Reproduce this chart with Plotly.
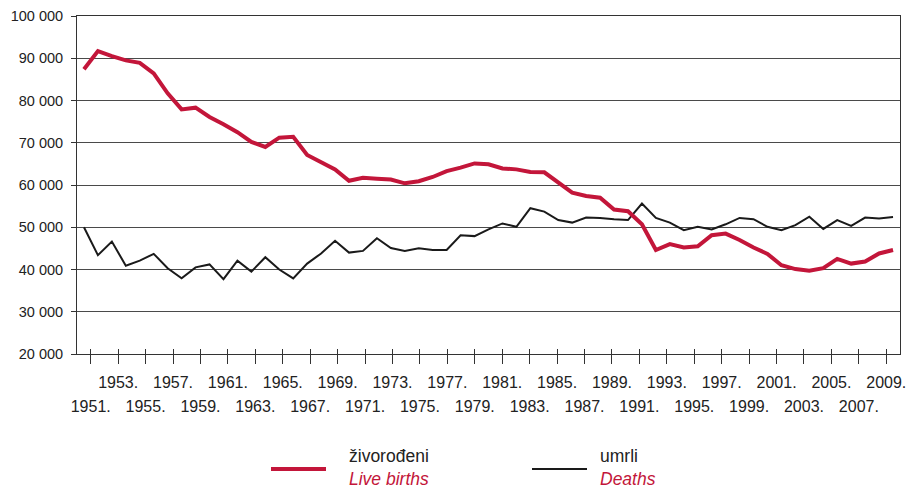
import plotly.graph_objects as go

years = list(range(1951, 2010))

live_births = [87400, 91700, 90500, 89500, 88900, 86400, 81700, 77900, 78300, 76100,
               74400, 72500, 70200, 69000, 71200, 71400, 67100, 65500, 63700, 61000,
               61700, 61500, 61300, 60400, 60900, 61900, 63300, 64100, 65100, 64900,
               63900, 63700, 63100, 63000, 60700, 58200, 57400, 57000, 54200, 53800,
               50700, 44600, 46000, 45200, 45500, 48100, 48500, 47000, 45200, 43700,
               41000, 40100, 39700, 40300, 42500, 41400, 41900, 43800, 44600]

deaths = [50000, 43400, 46600, 40900, 42100, 43700, 40300, 37900, 40500, 41200,
          37700, 42100, 39500, 42900, 40000, 37900, 41400, 43800, 46800, 44000,
          44400, 47400, 45100, 44400, 45000, 44600, 44600, 48100, 47900, 49500,
          50900, 50100, 54500, 53700, 51700, 51100, 52300, 52200, 51900, 51700,
          55600, 52200, 51100, 49300, 50100, 49500, 50700, 52200, 51900, 50100,
          49300, 50500, 52500, 49600, 51700, 50300, 52300, 52100, 52400]

tick_years = ["1951.", "1953.", "1955.", "1957.", "1959.", "1961.", "1963.", "1965.",
              "1967.", "1969.", "1971.", "1973.", "1975.", "1977.", "1979.", "1981.",
              "1983.", "1985.", "1987.", "1989.", "1991.", "1993.", "1995.", "1997.",
              "1999.", "2001.", "2003.", "2005.", "2007.", "2009."]

y_ticks = [20000, 30000, 40000, 50000, 60000, 70000, 80000, 90000, 100000]
y_labels = ["20 000", "30 000", "40 000", "50 000", "60 000", "70 000", "80 000", "90 000", "100 000"]

RED = "#C3163A"
BLACK = "#1a1a1a"
FONT = "Liberation Sans, Arial, sans-serif"

x0, x1 = years[0] - 0.5, years[-1] + 0.5
span = x1 - x0
n_ticks = len(tick_years)
tickvals = [x0 + (2 * k + 1) * span / (2 * n_ticks) for k in range(n_ticks)]
lab = "<span style='font-size:16px'>%s</span>"
ticktext = [("\u00a0<br>" + lab % t) if k % 2 == 0 else lab % t for k, t in enumerate(tick_years)]

fig = go.Figure()
fig.add_trace(go.Scatter(x=years, y=deaths, mode="lines", name="umrli",
                         line=dict(color=BLACK, width=2), showlegend=False))
fig.add_trace(go.Scatter(x=years, y=live_births, mode="lines", name="živorođeni",
                         line=dict(color=RED, width=4), showlegend=False))

W, H = 911, 489
ML, MR, MT, MB = 77, 11, 16, 135
pw, ph = W - ML - MR, H - MT - MB


def px(xp):
    return (xp - ML) / pw


def py(yp):
    return (H - MB - yp) / ph


shapes = [
    dict(type="line", xref="paper", yref="paper", x0=px(271), x1=px(326), y0=py(469), y1=py(469),
         line=dict(color=RED, width=4)),
    dict(type="line", xref="paper", yref="paper", x0=px(532), x1=px(587), y0=py(469), y1=py(469),
         line=dict(color=BLACK, width=2)),
]
annotations = [
    dict(xref="paper", yref="paper", x=px(348), y=py(467.5), xanchor="left", yanchor="middle",
         showarrow=False, align="left", borderpad=0,
         text="živorođeni<br><i><span style='color:%s'>Live births</span></i>" % RED,
         font=dict(family=FONT, size=17.5, color="#222")),
    dict(xref="paper", yref="paper", x=px(599), y=py(467.5), xanchor="left", yanchor="middle",
         showarrow=False, align="left", borderpad=0,
         text="umrli<br><i><span style='color:%s'>Deaths</span></i>" % RED,
         font=dict(family=FONT, size=17.5, color="#222")),
]

fig.update_layout(
    width=W, height=H,
    margin=dict(l=ML, r=MR, t=MT, b=MB, autoexpand=False),
    paper_bgcolor="white", plot_bgcolor="white",
    shapes=shapes, annotations=annotations,
    xaxis=dict(range=[x0, x1], tickmode="array", tickvals=tickvals, ticktext=ticktext,
               automargin=False,
               ticks="outside", ticklen=9, tickcolor="#333", tickwidth=1,
               minor=dict(tickmode="array", tickvals=[v + 1e-4 for v in tickvals],
                          ticks="inside", ticklen=5, tickcolor="#333", tickwidth=1),
               showgrid=False, zeroline=False, showline=True, mirror=True,
               linecolor="#333", linewidth=1,
               tickangle=0, ticklabelstandoff=2,
               tickfont=dict(family=FONT, size=18.5, color="#222")),
    yaxis=dict(range=[20000, 100000], tickmode="array", tickvals=y_ticks, ticktext=y_labels,
               automargin=False,
               ticks="outside", ticklen=5, tickcolor="#333",
               showgrid=True, gridcolor="#4a4a4a", gridwidth=1,
               zeroline=False, showline=True, mirror=True, linecolor="#333", linewidth=1,
               ticklabelstandoff=5,
               tickfont=dict(family=FONT, size=14.5, color="#222")),
)

fig.write_html("out.html", config={"displayModeBar": False},
               post_script="document.body.style.margin='0';document.body.style.padding='0';")
